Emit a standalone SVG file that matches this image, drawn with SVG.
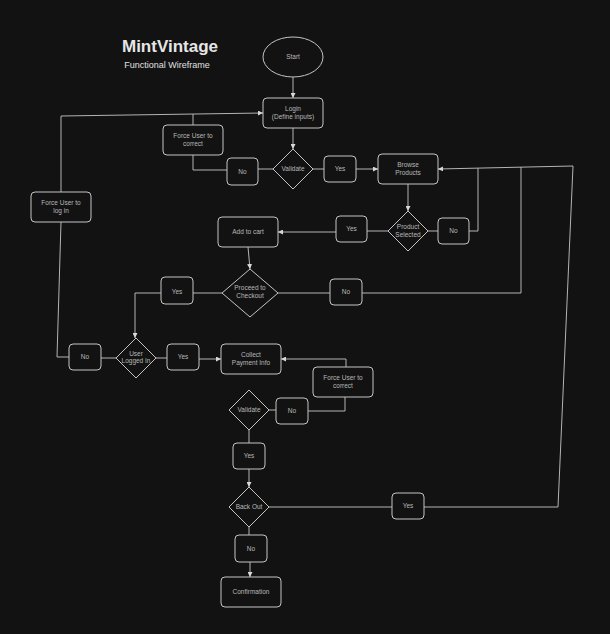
<svg xmlns="http://www.w3.org/2000/svg" width="610" height="634" viewBox="0 0 610 634">
<defs>
<style>
.n{fill:#121212;stroke:#c4c4c4;stroke-width:1}
.t{font-family:"Liberation Sans",Arial,sans-serif;font-size:6.5px;fill:#b8b8b8;text-anchor:middle}
.c{fill:none;stroke:#b4b4b4;stroke-width:1}
.title{font-family:"Liberation Sans",Arial,sans-serif;font-weight:bold;font-size:17px;fill:#e6e6e6;text-anchor:middle}
.sub{font-family:"Liberation Sans",Arial,sans-serif;font-size:9px;fill:#e0e0e0;text-anchor:middle}
</style>
<marker id="a" viewBox="0 0 10 10" refX="10" refY="5" markerWidth="5" markerHeight="5" orient="auto" markerUnits="userSpaceOnUse">
<path d="M0,0 L10,5 L0,10 Z" fill="#d8d8d8"/>
</marker>
</defs>
<rect width="610" height="634" fill="#121212"/>
<text class="title" x="170" y="52">MintVintage</text>
<text class="sub" x="167" y="68">Functional Wireframe</text>

<g id="connectors">
<path class="c" d="M293,77 V98" marker-end="url(#a)"/>
<path class="c" d="M293,128 V149" marker-end="url(#a)"/>
<path class="c" d="M273,169 H258"/>
<path class="c" d="M227,170 H193 V155"/>
<path class="c" d="M193,125 V114"/>
<path class="c" d="M57,357 H69"/>
<path class="c" d="M61,192 L61,116 L263,113" marker-end="url(#a)"/>
<path class="c" d="M61,222 L57,357"/>
<path class="c" d="M313,169 H324"/>
<path class="c" d="M356,169 H378" marker-end="url(#a)"/>
<path class="c" d="M408,184 V211" marker-end="url(#a)"/>
<path class="c" d="M428,231 H438"/>
<path class="c" d="M469,231 H478 V168"/>
<path class="c" d="M388,231 H367"/>
<path class="c" d="M336,232 H278" marker-end="url(#a)"/>
<path class="c" d="M248,247 L250,269" marker-end="url(#a)"/>
<path class="c" d="M278,293 H330"/>
<path class="c" d="M362,293 H521 V167"/>
<path class="c" d="M573,166 L438,169" marker-end="url(#a)"/>
<path class="c" d="M222,293 H193"/>
<path class="c" d="M161,293 H135 V338" marker-end="url(#a)"/>
<path class="c" d="M116,358 H101"/>
<path class="c" d="M156,358 H167"/>
<path class="c" d="M199,359 H221" marker-end="url(#a)"/>
<path class="c" d="M346,367 V359 H281" marker-end="url(#a)"/>
<path class="c" d="M269,410 H276"/>
<path class="c" d="M308,411 H345 V397"/>
<path class="c" d="M249,430 V443"/>
<path class="c" d="M249,469 V487" marker-end="url(#a)"/>
<path class="c" d="M269,507 H392"/>
<path class="c" d="M424,507 H558 L573,166"/>
<path class="c" d="M249,527 V535"/>
<path class="c" d="M250,562 V577" marker-end="url(#a)"/>
</g>

<g id="start"><ellipse class="n" cx="293" cy="57" rx="30" ry="20"/><text class="t" x="293" y="59">Start</text></g>
<g id="login"><rect class="n" x="263" y="98" width="60" height="30" rx="4"/><text class="t" x="293" y="111">Login</text><text class="t" x="293" y="118.5">(Define inputs)</text></g>
<g id="validate1"><path class="n" d="M293,149 L313,169 L293,189 L273,169 Z"/><text class="t" x="293" y="171">Validate</text></g>
<g id="no1"><rect class="n" x="227" y="158" width="31" height="27" rx="4"/><text class="t" x="242.5" y="173.5">No</text></g>
<g id="force-correct1"><rect class="n" x="163" y="125" width="60" height="30" rx="4"/><text class="t" x="193" y="138">Force User to</text><text class="t" x="193" y="145.5">correct</text></g>
<g id="force-login"><rect class="n" x="31" y="192" width="60" height="30" rx="4"/><text class="t" x="61" y="205">Force User to</text><text class="t" x="61" y="212.5">log in</text></g>
<g id="yes1"><rect class="n" x="324" y="156" width="32" height="26" rx="4"/><text class="t" x="340" y="171">Yes</text></g>
<g id="browse"><rect class="n" x="378" y="154" width="60" height="30" rx="4"/><text class="t" x="408" y="167">Browse</text><text class="t" x="408" y="174.5">Products</text></g>
<g id="product-selected"><path class="n" d="M408,211 L428,231 L408,251 L388,231 Z"/><text class="t" x="408" y="229">Product</text><text class="t" x="408" y="236.5">Selected</text></g>
<g id="no2"><rect class="n" x="438" y="218" width="31" height="26" rx="4"/><text class="t" x="453.5" y="233">No</text></g>
<g id="yes2"><rect class="n" x="336" y="216" width="31" height="26" rx="4"/><text class="t" x="351.5" y="231">Yes</text></g>
<g id="add-to-cart"><rect class="n" x="218" y="217" width="60" height="30" rx="4"/><text class="t" x="248" y="234">Add to cart</text></g>
<g id="proceed"><path class="n" d="M250,269 L278,293 L250,317 L222,293 Z"/><text class="t" x="250" y="290">Proceed to</text><text class="t" x="250" y="297.5">Checkout</text></g>
<g id="no3"><rect class="n" x="330" y="279" width="32" height="26" rx="4"/><text class="t" x="346" y="294">No</text></g>
<g id="yes3"><rect class="n" x="161" y="277" width="32" height="27" rx="4"/><text class="t" x="177" y="294">Yes</text></g>
<g id="logged-in"><path class="n" d="M136,338 L156,358 L136,378 L116,358 Z"/><text class="t" x="136" y="355.5">User</text><text class="t" x="136" y="363">Logged In</text></g>
<g id="no4"><rect class="n" x="69" y="344" width="32" height="26" rx="4"/><text class="t" x="85" y="359">No</text></g>
<g id="yes4"><rect class="n" x="167" y="344" width="32" height="26" rx="4"/><text class="t" x="183" y="359">Yes</text></g>
<g id="collect"><rect class="n" x="221" y="344" width="60" height="30" rx="4"/><text class="t" x="251" y="357">Collect</text><text class="t" x="251" y="364.5">Payment Info</text></g>
<g id="force-correct2"><rect class="n" x="313" y="367" width="60" height="30" rx="4"/><text class="t" x="343" y="380">Force User to</text><text class="t" x="343" y="387.5">correct</text></g>
<g id="validate2"><path class="n" d="M249,390 L269,410 L249,430 L229,410 Z"/><text class="t" x="249" y="412">Validate</text></g>
<g id="no5"><rect class="n" x="276" y="398" width="32" height="26" rx="4"/><text class="t" x="292" y="413">No</text></g>
<g id="yes5"><rect class="n" x="233" y="443" width="32" height="26" rx="4"/><text class="t" x="249" y="458">Yes</text></g>
<g id="back-out"><path class="n" d="M249,487 L269,507 L249,527 L229,507 Z"/><text class="t" x="249" y="509">Back Out</text></g>
<g id="yes6"><rect class="n" x="392" y="493" width="32" height="26" rx="4"/><text class="t" x="408" y="508">Yes</text></g>
<g id="no6"><rect class="n" x="235" y="535" width="32" height="27" rx="4"/><text class="t" x="251" y="551">No</text></g>
<g id="confirmation"><rect class="n" x="221" y="577" width="60" height="30" rx="4"/><text class="t" x="251" y="594">Confirmation</text></g>
</svg>
